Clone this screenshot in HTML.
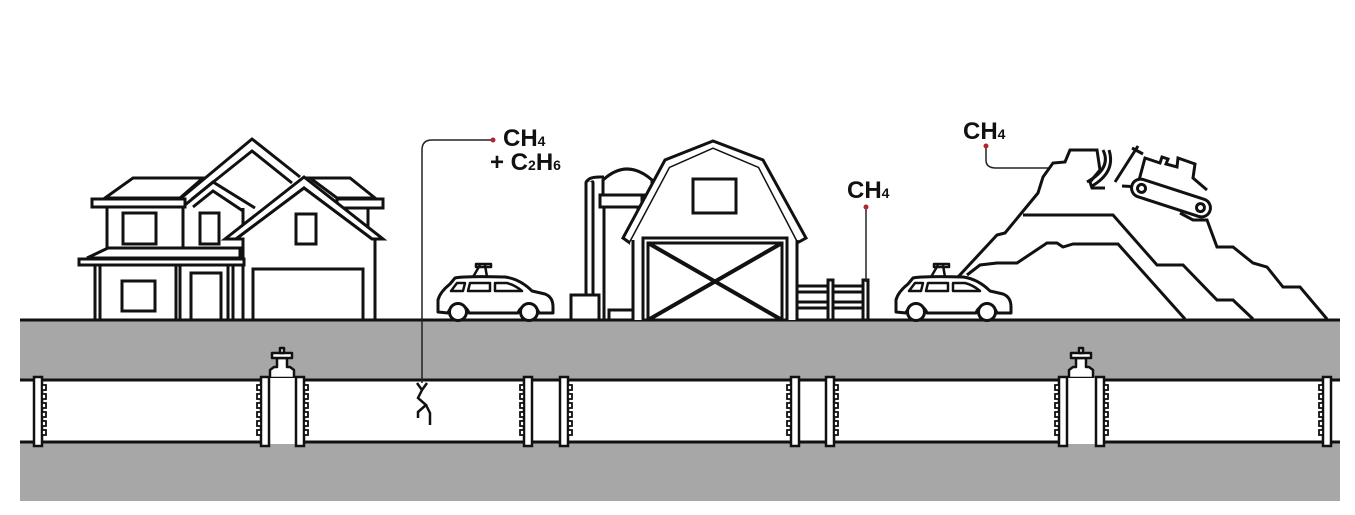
<!DOCTYPE html>
<html><head><meta charset="utf-8"><style>
html,body{margin:0;padding:0;background:#fff;}
svg{display:block;}
text{font-family:"Liberation Sans",sans-serif;font-weight:bold;fill:#111;}
</style></head><body>
<svg width="1355" height="515" viewBox="0 0 1355 515" xmlns="http://www.w3.org/2000/svg">
<defs>
<g id="car" fill="#fff" stroke="#111" stroke-width="3" stroke-linejoin="round">
  <path d="M3,50 L3,38 Q5,30 15,22 L20,16 Q30,14 70,15 Q85,17 97,29 L110,32 Q118,35 118,45 L118,51 L104,51 A11,11 0 0 0 83,51 L34,51 A11,11 0 0 0 13,51 Z"/>
  <circle cx="23" cy="50" r="8.5"/>
  <circle cx="94" cy="50" r="8.5"/>
  <path d="M16,29 L22,21 L30,21 L28,29 Z M33,29 L35,21 L55,21 L55,29 Z M60,29 L60,21 L72,21 Q80,23 87,29 Z" stroke-width="2.5"/>
  <path d="M38,15 L45,3 M52,15 L50,3 M41,2 L56,2 L56,5 L41,5 Z" stroke-width="2.5"/>
</g>
<g id="flR"><rect x="-4" y="377" width="8" height="69" fill="#fff" stroke="#111" stroke-width="2.5"/>
 <g fill="#fff" stroke="#111" stroke-width="1.8"><rect x="4" y="385" width="4" height="5"/><rect x="4" y="394" width="4" height="5"/><rect x="4" y="403" width="4" height="5"/><rect x="4" y="412" width="4" height="5"/><rect x="4" y="421" width="4" height="5"/><rect x="4" y="430" width="4" height="5"/></g></g>
<g id="flL"><rect x="-4" y="377" width="8" height="69" fill="#fff" stroke="#111" stroke-width="2.5"/>
 <g fill="#fff" stroke="#111" stroke-width="1.8"><rect x="-8" y="385" width="4" height="5"/><rect x="-8" y="394" width="4" height="5"/><rect x="-8" y="403" width="4" height="5"/><rect x="-8" y="412" width="4" height="5"/><rect x="-8" y="421" width="4" height="5"/><rect x="-8" y="430" width="4" height="5"/></g></g>
<g id="valve" fill="#fff" stroke="#111" stroke-width="2.5" stroke-linejoin="round">
  <path d="M-12,378 L-12,370 L-8,367 L-5,367 L-5,358 L5,358 L5,367 L8,367 L12,370 L12,378 Z"/>
  <rect x="-10" y="353" width="20" height="5"/>
  <rect x="-2" y="348" width="4" height="5"/>
  <rect x="-17" y="378" width="34" height="66" stroke="none"/>
  <line x1="-17" y1="378" x2="-17" y2="444"/><line x1="17" y1="378" x2="17" y2="444"/>
</g>
</defs>

<!-- ground -->
<rect x="20" y="320" width="1320" height="181" fill="#a7a7a7"/>
<line x1="20" y1="320" x2="1340" y2="320" stroke="#111" stroke-width="3"/>
<rect x="20" y="380" width="1320" height="62" fill="#fff"/>
<line x1="20" y1="380" x2="1340" y2="380" stroke="#111" stroke-width="3"/>
<line x1="20" y1="442" x2="1340" y2="442" stroke="#111" stroke-width="3"/>

<!-- valves & flanges -->
<use href="#valve" x="282"/>
<use href="#valve" x="1081"/>
<use href="#flR" x="38"/>
<use href="#flL" x="265"/><use href="#flR" x="300"/>
<use href="#flL" x="528"/><use href="#flR" x="564"/>
<use href="#flL" x="795"/><use href="#flR" x="830"/>
<use href="#flL" x="1063"/><use href="#flR" x="1100"/>
<use href="#flL" x="1327"/>

<!-- house -->
<g fill="#fff" stroke="#111" stroke-width="3" stroke-linejoin="miter">
  <path d="M105,198 L133,178 L203,178 L180,198 Z"/>
  <path d="M310,178 L350,178 L375,198 L337,198 Z"/>
  <rect x="92" y="199" width="93" height="8"/>
  <rect x="337" y="199" width="46" height="9"/>
  <rect x="107" y="207" width="76" height="41"/>
  <line x1="368" y1="208" x2="368" y2="228"/>
  <path d="M183,207 L183,248 M243,208 L243,248"/>
  <path d="M180,199 L252,139 L300,177" fill="none"/>
  <path d="M192,199 L252,151 L292,183" fill="none"/>
  <path d="M185,205 L213,182 L255,208" fill="none"/>
  <path d="M193,207 L213,191 L243,211" fill="none"/>
  <path d="M225,239 L304,177 L383,239 L372,239 L304,188 L236,239 Z"/>
  <path d="M236,239 L304,188 L372,239 L375,239 L375,320 L243,320 L243,239 Z"/>
  <path d="M87,258 L108,248 L240,248 L240,258 Z"/>
  <rect x="79" y="259" width="165" height="6"/>
  <rect x="95" y="265" width="5" height="55"/>
  <rect x="176" y="265" width="4" height="55"/>
  <rect x="228" y="265" width="5" height="55"/>
  <rect x="123" y="213" width="33" height="31"/>
  <rect x="200" y="213" width="19" height="31"/>
  <rect x="296" y="214" width="20" height="30"/>
  <rect x="122" y="281" width="33" height="30"/>
  <rect x="191" y="273" width="30" height="47"/>
  <rect x="253" y="269" width="110" height="51"/>
</g>

<!-- barn -->
<g fill="#fff" stroke="#111" stroke-width="3" stroke-linejoin="miter">
  <rect x="586" y="180" width="7" height="116" rx="3"/>
  <path d="M587,182 Q588,177 600,177 L604,177"/>
  <path d="M603,195 L603,180 Q627,158 652,180 L652,195 Z"/>
  <rect x="600" y="195" width="42" height="12"/>
  <rect x="604" y="207" width="34" height="113"/>
  <rect x="571" y="295" width="28" height="25"/>
  <rect x="609" y="310" width="24" height="10"/>
  <path d="M623,238 L665,160 L713,141 L763,160 L806,238 L797,243 L758,168 L713,149 L670,168 L630,243 Z"/>
  <path d="M630,243 L670,168 L713,149 L758,168 L797,243 L797,320 L633,320 Z" stroke="none"/>
  <line x1="633" y1="240" x2="633" y2="320"/><line x1="797" y1="240" x2="797" y2="320"/>
  <rect x="643" y="238" width="144" height="82"/>
  <rect x="648" y="243" width="134" height="77"/>
  <path d="M648,243 L782,320 M782,243 L648,320" stroke-width="4"/>
  <rect x="693" y="179" width="43" height="34"/>
  <rect x="797" y="286" width="68" height="6"/>
  <rect x="797" y="302" width="68" height="6"/>
  <rect x="828" y="280" width="5" height="40"/>
  <rect x="863" y="280" width="5" height="40"/>
</g>

<!-- cars -->
<use href="#car" x="435" y="262"/>
<use href="#car" x="893" y="262"/>

<!-- landfill -->
<g fill="none" stroke="#111" stroke-width="3" stroke-linejoin="miter">
  <path d="M958,277 L997,235 L1005,233 L1038,193 L1043,177 L1053,163 L1065,162 L1070,150 L1097,150 L1100,170 L1090,182 L1092,188 L1105,188"/>
  <path d="M1180,213 L1193,220 L1207,220 L1217,247 L1233,247 L1253,263 L1267,267 L1283,287 L1300,287 L1327,319"/>
  <path d="M1023,215 L1113,215 L1157,265 L1183,265 L1217,300 L1233,300 L1253,319"/>
  <path d="M967,275 L980,265 L997,263 L1017,263 L1047,243 L1057,243 L1063,247 L1073,244 L1118,244 L1185,319"/>
  <path d="M1103,150 Q1112,168 1087,182"/>
  <path d="M1109,150 Q1116,172 1092,186"/>
  <path d="M1115,182 L1138,146 M1132,148 L1143,154 M1122,186 L1140,187"/>
  <path d="M1138,184 L1145,158 L1160,163 L1162,157 L1168,159 L1166,164 L1177,167 L1178,158 L1195,164 L1193,178 L1207,190"/>
  <g transform="translate(1171,198) rotate(18)">
    <rect x="-41" y="-9" width="82" height="18" rx="9" fill="#fff"/>
    <circle cx="-31" cy="0" r="4"/><circle cx="31" cy="0" r="4"/>
  </g>
</g>

<!-- connectors -->
<g fill="none" stroke="#222" stroke-width="1.5">
  <path d="M493,140 L432,140 Q422,140 422,150 L422,383"/>
  <path d="M866,208 L866,282"/>
  <path d="M986,146 L986,160 Q986,168 996,168 L1048,168"/>
</g>
<path d="M417,383 L422,390 L427,383 M422,390 L418,398 L426,405 L418,412 L418,418 M426,405 L430,413 L430,425" fill="none" stroke="#111" stroke-width="2.5"/>
<circle cx="493" cy="140" r="2.5" fill="#b3262e"/>
<circle cx="866" cy="207" r="2.5" fill="#b3262e"/>
<circle cx="986" cy="146" r="2.5" fill="#b3262e"/>

<!-- labels -->
<text x="503" y="146" font-size="24">CH<tspan font-size="14">4</tspan></text>
<text x="490" y="170" font-size="24">+ C<tspan font-size="14">2</tspan>H<tspan font-size="14">6</tspan></text>
<text x="847" y="198" font-size="24">CH<tspan font-size="14">4</tspan></text>
<text x="963" y="139" font-size="24">CH<tspan font-size="14">4</tspan></text>
</svg>
</body></html>
